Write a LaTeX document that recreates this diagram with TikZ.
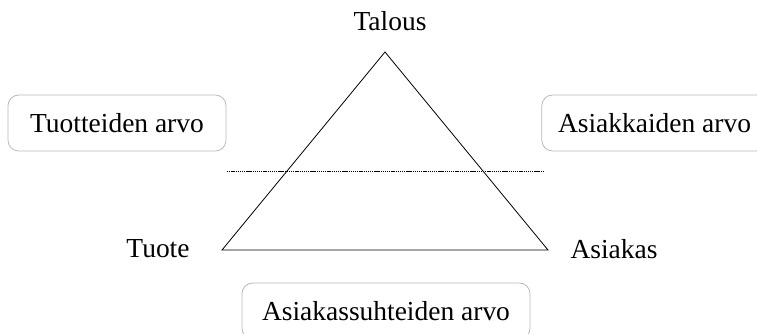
\documentclass[tikz,border=0pt]{standalone}
\usepackage{fontspec}
\setmainfont{Liberation Serif}

\begin{document}
\begin{tikzpicture}[x=0.75pt,y=-0.75pt,font=\fontsize{20.6}{24}\selectfont,box/.style={draw=gray!55,line width=0.6pt,rounded corners=8pt,minimum height=42pt,inner sep=0pt}]
\useasboundingbox (0,0) rectangle (757,333);
\coordinate (top) at (385,52);
\coordinate (vl) at (222,250);
\coordinate (vr) at (548,250);
\coordinate (dl) at (227,171);
\coordinate (dr) at (544,171);
\draw[line width=0.6pt] (top)--(vl)--(vr)--cycle;
\draw[line width=0.5pt,dash pattern=on 1pt off 0.6pt] (dl)--(dr);
\node (talous) at (390,21) {Talous};
\node (tuote) at (158,249) {Tuote};
\node (asiakas) at (614,249) {Asiakas};
\node[box,minimum width=163.5pt] (tuotearvo) at (117,123) {Tuotteiden arvo};
\node[box,minimum width=169pt] (asiakasarvo) at (654.5,123) {Asiakkaiden arvo};
\node[box,minimum width=216pt] (suhdearvo) at (386,311) {Asiakassuhteiden arvo};
\end{tikzpicture}
\end{document}
